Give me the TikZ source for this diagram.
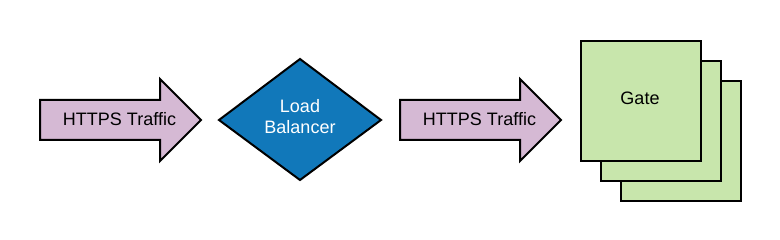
\documentclass[tikz,border=0pt]{standalone}
\usepackage{fontspec}
\setmainfont{Liberation Sans}
\usetikzlibrary{shapes.geometric}
\definecolor{lilac}{HTML}{D5B9D4}
\definecolor{lbblue}{HTML}{1178BA}
\definecolor{gategreen}{HTML}{C8E6AC}
\tikzset{
  bigarrow/.style={draw=black, line width=2pt, fill=lilac, line join=miter},
  lbdiamond/.style={draw=black, line width=2pt, fill=lbblue, line join=miter},
  gatebox/.style={draw=black, line width=2pt, fill=gategreen, minimum width=120pt, minimum height=120pt, inner sep=0pt, anchor=north west},
  lbl/.style={font=\fontsize{18}{21}\selectfont, align=center, inner sep=0pt}
}
\begin{document}
\begin{tikzpicture}[x=1pt,y=-1pt]
\useasboundingbox (0,0) rectangle (780,240);
% arrow 1
\draw[bigarrow] (40,100) -- (160,100) -- (160,79) -- (201,120) -- (160,161) -- (160,140) -- (40,140) -- cycle;
\node[lbl] (t1) at (119.5,119) {HTTPS Traffic};
% diamond
\draw[lbdiamond] (219,120) -- (300,59) -- (381,120) -- (300,180) -- cycle;
\node[lbl, text=white] (lb) at (300,117) {Load\\Balancer};
% arrow 2
\draw[bigarrow] (400,100) -- (520,100) -- (520,79) -- (561,120) -- (520,161) -- (520,140) -- (400,140) -- cycle;
\node[lbl] (t2) at (479.5,119) {HTTPS Traffic};
% gates
\node[gatebox] (g3) at (620,80) {};
\node[gatebox] (g2) at (600,60) {};
\node[gatebox] (g1) at (580,40) {};
\node[lbl] (gt) at (640,98) {Gate};
\end{tikzpicture}
\end{document}
